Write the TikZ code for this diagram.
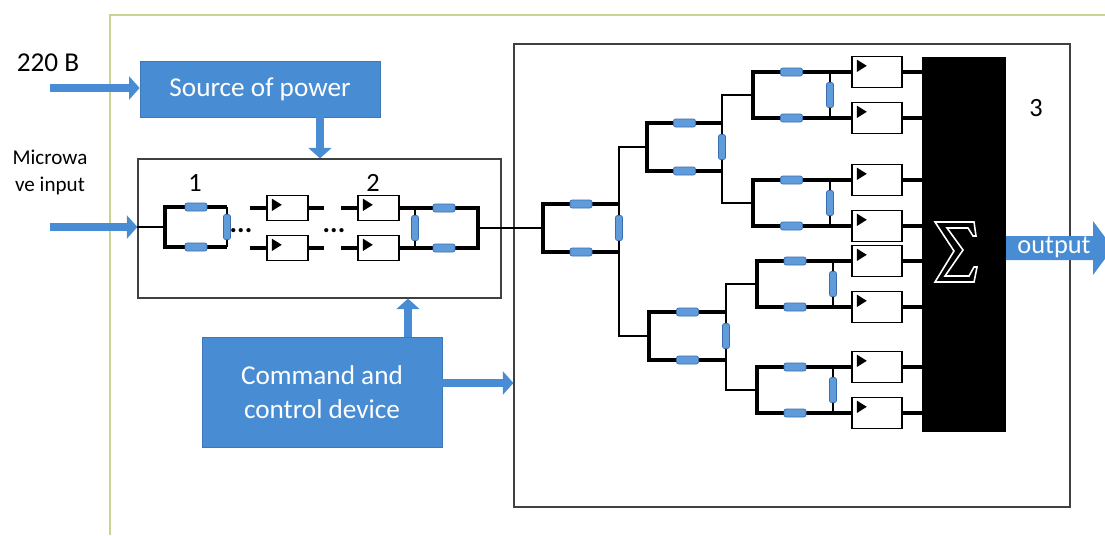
\documentclass[tikz,border=0pt]{standalone}
\usepackage{fontspec}
\setmainfont{Carlito}
\usepackage{tikz}
\usetikzlibrary{arrows.meta,calc}
\definecolor{boxblue}{RGB}{72,140,212}
\definecolor{compblue}{RGB}{96,156,218}
\definecolor{compedge}{RGB}{58,108,178}
\definecolor{framegreen}{RGB}{200,212,150}
\tikzstyle{bluebox} = [rectangle, fill=boxblue, draw=boxblue!85!black, text=white, font=\fontsize{15.5}{19}\selectfont, align=center]
\tikzstyle{module} = [rectangle, draw=black!75, line width=0.7pt]
\tikzstyle{amp} = [rectangle, draw=black, line width=0.6pt, fill=white, minimum width=1cm, minimum height=0.62cm, path picture={\fill[black] ([shift={(2.8pt,-1.8pt)}]path picture bounding box.north west) -- ++(0pt,-7pt) -- ++(5.6pt,3.5pt) -- cycle;}]
\tikzstyle{comp} = [rectangle, rounded corners=1.2pt, fill=compblue, draw=compedge, line width=0.4pt, minimum width=0.44cm, minimum height=0.16cm, inner sep=0pt]
\tikzstyle{vcomp} = [comp, minimum width=0.14cm, minimum height=0.5cm]
\tikzstyle{wire} = [line width=2pt]
\tikzstyle{thinwire} = [line width=1.1pt]
\tikzstyle{bigarrow} = [line width=4.5pt, draw=boxblue, -{Triangle[length=6pt,width=13pt]}]
\tikzstyle{numtext} = [font=\fontsize{15}{18}\selectfont]
% one hybrid: name, left x, right x, top y, bottom y
\newcommand{\hybrid}[5]{%
  \coordinate (#1-lt) at (#2,#4);
  \coordinate (#1-lb) at (#2,#5);
  \coordinate (#1-rt) at (#3,#4);
  \coordinate (#1-rb) at (#3,#5);
  \coordinate (#1-in) at ($(#1-lt)!0.5!(#1-lb)$);
  \draw[wire] (#1-rt) -- (#1-lt) -- (#1-lb) -- (#1-rb);
  \draw[thinwire] (#1-rt) -- (#1-rb);
  \node[comp] (#1-ct) at ($(#1-lt)!0.5!(#1-rt)$) {};
  \node[comp] (#1-cb) at ($(#1-lb)!0.5!(#1-rb)$) {};
  \node[vcomp] (#1-cv) at ($(#1-rt)!0.5!(#1-rb)$) {};
}
\begin{document}
\begin{tikzpicture}[x=0.02cm, y=-0.02cm]
\useasboundingbox (0,0) rectangle (1105,535);
\draw[framegreen, line width=0.8pt] (110,535) -- (110,15) -- (1105,15);

\node (src) [bluebox, minimum width=4.8cm, minimum height=1.12cm] at (260,89) {Source of power};
\node (ctrl) [bluebox, minimum width=4.8cm, minimum height=2.2cm] at (322,392) {Command and\\control device};
\node (mod1) [module, minimum width=7.26cm, minimum height=2.78cm] at (319.5,228.5) {};
\node (mod3) [module, minimum width=11.12cm, minimum height=9.26cm] at (792,275.5) {};

\node (volt) [font=\fontsize{15.5}{19}\selectfont] at (48,63) {220 B};
\node (mwlabel) [font=\fontsize{12}{15.3}\selectfont, align=center] at (50,172) {Microwa\\ve input};
\node (one) [numtext] at (195,183) {1};
\node (two) [numtext] at (373,183) {2};
\node (three) [numtext] at (1036,108) {3};

\coordinate (pwrin) at (50,88);
\coordinate (mwin) at (50,227);
\draw[bigarrow] (pwrin) -- (pwrin -| src.west);
\draw[bigarrow] (mwin) -- (mwin -| mod1.west);
\draw[bigarrow] ([xshift=1.2cm]src.south) -- ([xshift=1.2cm]src.south |- mod1.north);
\draw[bigarrow] ([xshift=1.72cm]ctrl.north) -- ([xshift=1.72cm]ctrl.north |- mod1.south);
\draw[bigarrow] ([yshift=0.18cm]ctrl.east) -- ([yshift=0.18cm]ctrl.east -| mod3.west);

% module 1
\hybrid{hA}{165}{227}{207}{247}
\draw[thinwire] (mod1.west |- hA-in) -- (hA-in);
\node (dotsA) [anchor=base, font=\fontsize{16}{18}\bfseries] at (241,232) {...};
\node (dotsB) [anchor=base, font=\fontsize{16}{18}\bfseries] at (334,232) {...};
\node (a1t) [amp, minimum width=0.82cm, minimum height=0.5cm] at (287.5,208) {};
\node (a1b) [amp, minimum width=0.82cm, minimum height=0.5cm] at (287.5,248) {};
\node (a2t) [amp, minimum width=0.82cm, minimum height=0.5cm] at (378.5,208) {};
\node (a2b) [amp, minimum width=0.82cm, minimum height=0.5cm] at (378.5,248) {};
\draw[wire] ([xshift=-0.32cm]a1t.west) -- (a1t.west) (a1t.east) -- ([xshift=0.3cm]a1t.east);
\draw[wire] ([xshift=-0.32cm]a1b.west) -- (a1b.west) (a1b.east) -- ([xshift=0.3cm]a1b.east);
\draw[wire] ([xshift=-0.32cm]a2t.west) -- (a2t.west);
\draw[wire] ([xshift=-0.32cm]a2b.west) -- (a2b.west);
\coordinate (hB-lt) at (415,208);
\coordinate (hB-lb) at (415,248);
\coordinate (hB-rt) at (478,208);
\coordinate (hB-rb) at (478,248);
\coordinate (hB-out) at (478,228);
\draw[wire] (a2t.east) -- (hB-rt) -- (hB-rb) -- (a2b.east);
\draw[thinwire] (hB-lt) -- (hB-lb);
\node[comp] (hB-ct) at (444,208) {};
\node[comp] (hB-cb) at (444,248) {};
\node[vcomp] (hB-cv) at (hB-lt |- hB-out) {};

% module 3
\hybrid{h1}{543}{619}{204}{252}
\hybrid{h2}{647}{722}{123}{171}
\hybrid{h3}{649}{726}{312}{360}
\hybrid{h4}{753}{830}{72}{118}
\hybrid{h5}{753}{830}{180}{226}
\hybrid{h6}{757}{833}{261}{307}
\hybrid{h7}{757}{833}{367}{413}
\draw[thinwire] (hB-out) -- (h1-in);
\draw[thinwire] (h1-rt) |- (h2-in);
\draw[thinwire] (h1-rb) |- (h3-in);
\draw[thinwire] (h2-rt) |- (h4-in);
\draw[thinwire] (h2-rb) |- (h5-in);
\draw[thinwire] (h3-rt) |- (h6-in);
\draw[thinwire] (h3-rb) |- (h7-in);

\node (sum) [fill=black, minimum width=1.68cm, minimum height=7.5cm] at (964,244.5) {};
\draw[white, line width=0.9pt, line join=miter, shift={(955,252)}] (-20,-30) -- (19,-30) -- (21,-16) -- (18,-16) -- (13,-24) -- (-8,-24) -- (8,-2) -- (-10,24) -- (14,24) -- (19,15) -- (22,15) -- (19,30) -- (-20,30) -- (-1,-1) -- cycle;
\foreach \n/\y in {1/72,2/118,3/180,4/226,5/261,6/307,7/367,8/413} {
  \node (amp\n) [amp] at (877,\y) {};
  \draw[wire] (amp\n.east) -- (amp\n.east -| sum.west);
}
\foreach \h/\a/\b in {h4/1/2,h5/3/4,h6/5/6,h7/7/8} {
  \draw[wire] (\h-rt) -- (amp\a.west);
  \draw[wire] (\h-rb) -- (amp\b.west);
}

\fill[boxblue] (1006,236) -- (1093,236) -- (1093,221) -- (1113,248) -- (1093,275) -- (1093,260) -- (1006,260) -- cycle;
\node (out) [text=white, font=\fontsize{15}{18}\selectfont] at (1054,247) {output};
\end{tikzpicture}
\end{document}
